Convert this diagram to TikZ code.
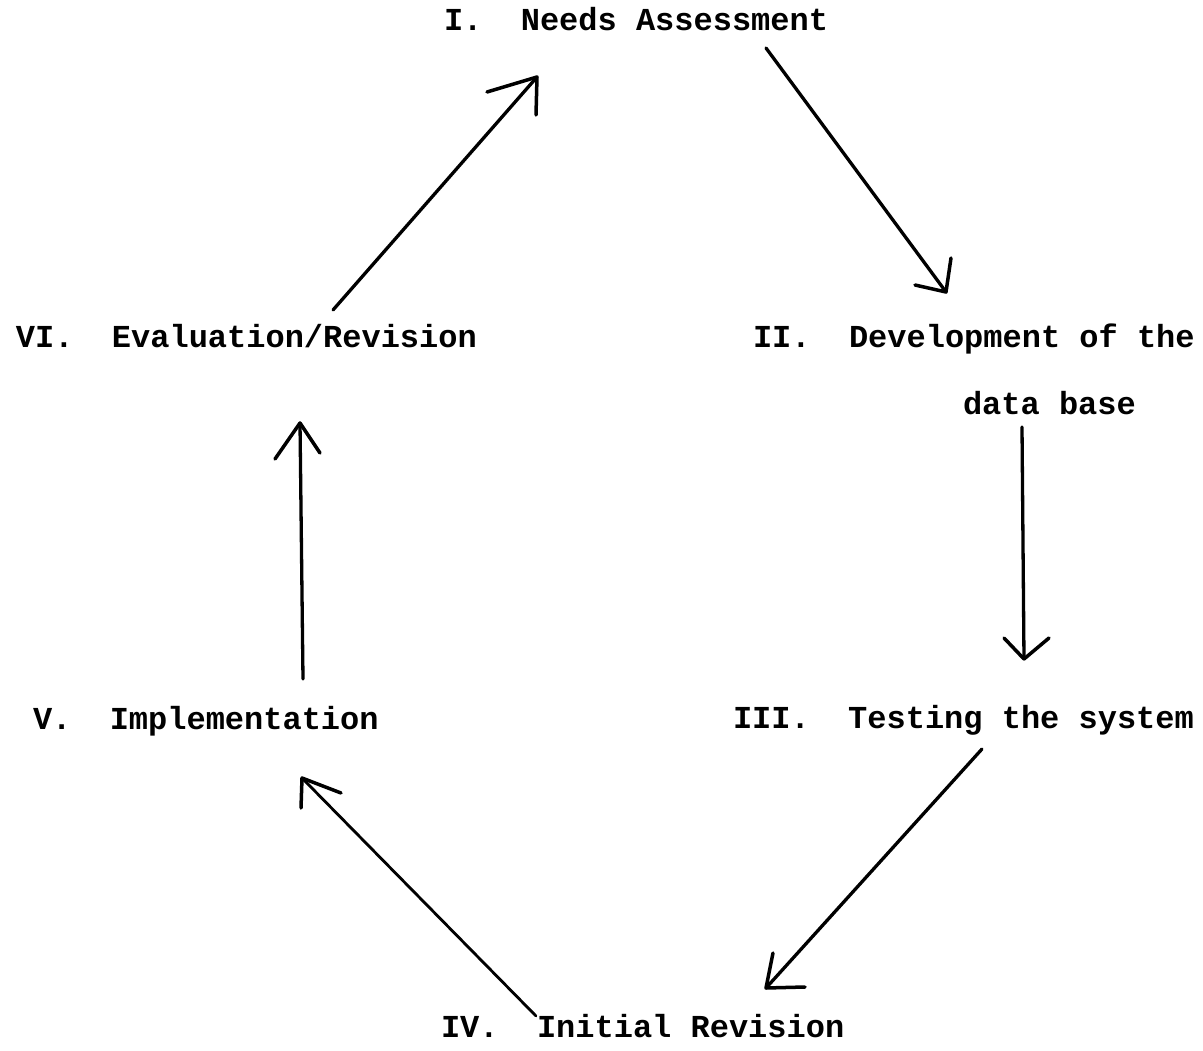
\documentclass[tikz,border=0pt]{standalone}
\usepackage{fontspec}
\setmonofont{Liberation Mono}
\begin{document}
\begin{tikzpicture}[x=1pt,y=-1pt,
  lbl/.style={anchor=base west,inner sep=0pt,outer sep=0pt,
    font=\ttfamily\bfseries\fontsize{32}{38}\selectfont},
  conn/.style={line width=3.3pt,line cap=round,line join=round},
  barb/.style={line width=3.5pt,line cap=round,line join=round}]
\useasboundingbox (0,0) rectangle (1203,1051);
% labels
\node[lbl] (n1) at (444,31) {I.~~Needs Assessment};
\node[lbl] (n2) at (753,348) {II.~~Development of the};
\node[lbl] (n2b) at (963,414) {data base};
\node[lbl] (n3) at (733,728) {III.~~Testing the system};
\node[lbl] (n4) at (441,1037) {IV.~~Initial Revision};
\node[lbl] (n5) at (33,729) {V.~~Implementation};
\node[lbl] (n6) at (16,347) {VI.~~Evaluation/Revision};
% connector end points
\coordinate (s12) at (766,48);  \coordinate (t12) at (946,292);
\coordinate (w12a) at (915,285); \coordinate (w12b) at (951,258);
\coordinate (s23) at (1022,427); \coordinate (t23) at (1024,659);
\coordinate (w23a) at (1004,638); \coordinate (w23b) at (1049,638);
\coordinate (s34) at (982,749);  \coordinate (t34) at (766,988);
\coordinate (w34a) at (773,953); \coordinate (w34b) at (805,987);
\coordinate (s45) at (536,1016); \coordinate (t45) at (302,778);
\coordinate (w45a) at (301,808); \coordinate (w45b) at (341,793);
\coordinate (s56) at (303,679);  \coordinate (t56) at (300,423);
\coordinate (w56a) at (275,459); \coordinate (w56b) at (320,453);
\coordinate (s61) at (333,310);  \coordinate (t61) at (537,77);
\coordinate (w61a) at (487,92);  \coordinate (w61b) at (536,115);
% connectors
\draw[conn] (s12) -- (t12);
\draw[barb] (w12a) -- (t12) -- (w12b);
\draw[conn] (s23) -- (t23);
\draw[barb] (w23a) -- (t23) -- (w23b);
\draw[conn] (s34) -- (t34);
\draw[barb] (w34a) -- (t34) -- (w34b);
\draw[conn,line width=2.8pt] (s45) -- (t45);
\draw[barb] (w45a) -- (t45) -- (w45b);
\draw[conn] (s56) -- (t56);
\draw[barb] (w56a) -- (t56) -- (w56b);
\draw[conn] (s61) -- (t61);
\draw[barb] (w61a) -- (t61) -- (w61b);
\end{tikzpicture}
\end{document}
